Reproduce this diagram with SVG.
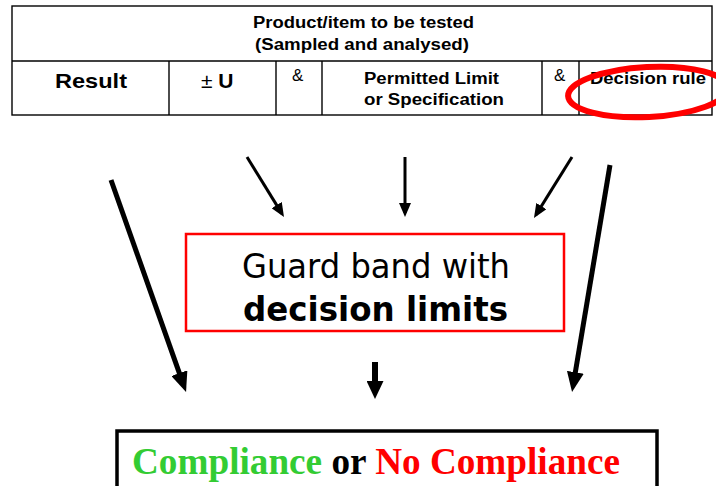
<svg xmlns="http://www.w3.org/2000/svg" width="716" height="486" viewBox="0 0 716 486">
  <style>
    .cell { fill: none; stroke: #000; stroke-width: 1.4; }
    .th { font-family: "Liberation Sans", Arial, sans-serif; font-weight: bold; font-size: 16px; fill: #000; }
    .big { font-family: "Liberation Sans", Arial, sans-serif; font-weight: bold; font-size: 21px; fill: #000; }
    .amp { font-family: "Liberation Sans", Arial, sans-serif; font-size: 17px; fill: #000; }
    .guard { font-family: "DejaVu Sans", Verdana, sans-serif; font-size: 33px; fill: #000; }
    .verdict { font-family: "Liberation Serif", "Times New Roman", serif; font-weight: bold; font-size: 37px; }
    .thin { stroke: #000; stroke-width: 3; fill: none; }
    .thick { stroke: #000; stroke-width: 5; fill: none; }
  </style>
  <defs>
    <marker id="headThin" markerUnits="userSpaceOnUse" markerWidth="14" markerHeight="12" refX="10" refY="6" orient="auto">
      <path d="M0,0 L14,6 L0,12 z" fill="#000"/>
    </marker>
    <marker id="headThick" markerUnits="userSpaceOnUse" markerWidth="20" markerHeight="17" refX="13" refY="8.5" orient="auto">
      <path d="M0,0 L20,8.5 L0,17 z" fill="#000"/>
    </marker>
    <marker id="headWide" markerUnits="userSpaceOnUse" markerWidth="18" markerHeight="17" refX="11" refY="8.5" orient="auto">
      <path d="M0,0 L18,8.5 L0,17 z" fill="#000"/>
    </marker>
  </defs>

  <rect width="716" height="486" fill="#fff"/>

  <!-- inputs table -->
  <g id="input-table">
    <rect class="cell" x="12" y="6" width="700" height="109"/>
    <line class="cell" x1="12" y1="61" x2="712" y2="61"/>
    <line class="cell" x1="169" y1="61" x2="169" y2="115"/>
    <line class="cell" x1="276" y1="61" x2="276" y2="115"/>
    <line class="cell" x1="322" y1="61" x2="322" y2="115"/>
    <line class="cell" x1="542" y1="61" x2="542" y2="115"/>
    <line class="cell" x1="579" y1="61" x2="579" y2="115"/>

    <text class="th" x="253" y="28" textLength="221" lengthAdjust="spacingAndGlyphs">Product/item to be tested</text>
    <text class="th" x="255" y="50" textLength="214" lengthAdjust="spacingAndGlyphs">(Sampled and analysed)</text>

    <text class="big" x="55" y="88" textLength="72" lengthAdjust="spacingAndGlyphs">Result</text>
    <text class="big" x="201" y="88"><tspan font-weight="normal">±</tspan> U</text>
    <text class="amp" x="292" y="81">&amp;</text>
    <text class="th" x="364" y="84" textLength="135" lengthAdjust="spacingAndGlyphs">Permitted Limit</text>
    <text class="th" x="364" y="105" textLength="140" lengthAdjust="spacingAndGlyphs">or Specification</text>
    <text class="amp" x="554" y="81">&amp;</text>
    <text class="th" x="590" y="84" textLength="116" lengthAdjust="spacingAndGlyphs">Decision rule</text>

    <!-- red highlight round the decision rule cell -->
    <ellipse cx="648" cy="92" rx="80" ry="25" transform="rotate(-3 648 92)" fill="none" stroke="#f00" stroke-width="6"/>
  </g>

  <!-- guard band box -->
  <g id="guard-band">
    <rect x="186" y="234" width="378" height="97" fill="none" stroke="#f00" stroke-width="2.5"/>
    <text class="guard" x="242" y="278" textLength="268" lengthAdjust="spacingAndGlyphs">Guard band with</text>
    <text class="guard" x="243" y="321" font-weight="bold" textLength="265" lengthAdjust="spacingAndGlyphs">decision limits</text>
  </g>

  <!-- verdict box -->
  <g id="verdict">
    <rect x="117" y="431" width="540" height="70" fill="none" stroke="#000" stroke-width="3.5"/>
    <text class="verdict" x="132" y="474" textLength="488" lengthAdjust="spacingAndGlyphs"><tspan fill="#33cc33">Compliance</tspan><tspan fill="#000"> or </tspan><tspan fill="#ff0000">No Compliance</tspan></text>
  </g>

  <!-- connectors -->
  <g id="connectors">
    <line class="thick" x1="111" y1="180" x2="183.7" y2="385.4" marker-end="url(#headThick)"/>
    <line class="thin" x1="247" y1="157" x2="281.9" y2="213.6" marker-end="url(#headThin)"/>
    <line class="thin" x1="405" y1="157" x2="405" y2="213" marker-end="url(#headThin)"/>
    <line class="thin" x1="572" y1="157" x2="536.1" y2="214.6" marker-end="url(#headThin)"/>
    <line class="thick" x1="610" y1="165" x2="573.2" y2="385.1" marker-end="url(#headThick)"/>
    <line stroke="#000" stroke-width="6" x1="375" y1="362" x2="375" y2="392" marker-end="url(#headWide)"/>
  </g>
</svg>
